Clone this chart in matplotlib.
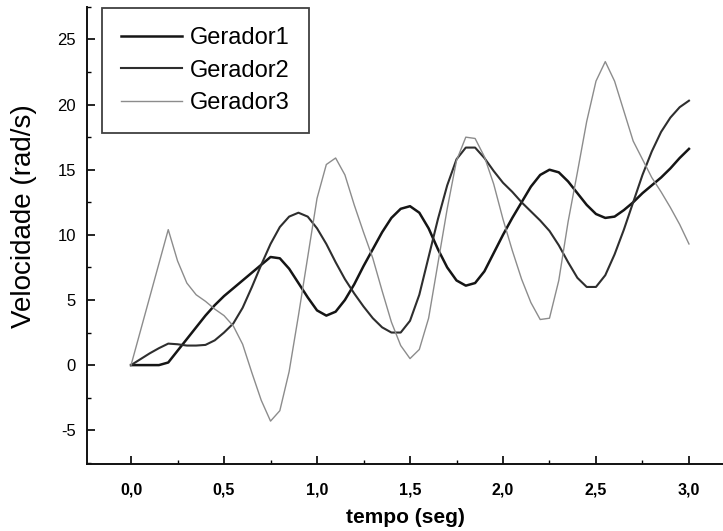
import matplotlib
matplotlib.use("Agg")
import matplotlib.pyplot as plt
from matplotlib.ticker import MultipleLocator

# time axis (s), read every 0.05 s off the scan
tempo = [0.00, 0.05, 0.10, 0.15, 0.20, 0.25, 0.30, 0.35, 0.40, 0.45,
         0.50, 0.55, 0.60, 0.65, 0.70, 0.75, 0.80, 0.85, 0.90, 0.95,
         1.00, 1.05, 1.10, 1.15, 1.20, 1.25, 1.30, 1.35, 1.40, 1.45,
         1.50, 1.55, 1.60, 1.65, 1.70, 1.75, 1.80, 1.85, 1.90, 1.95,
         2.00, 2.05, 2.10, 2.15, 2.20, 2.25, 2.30, 2.35, 2.40, 2.45,
         2.50, 2.55, 2.60, 2.65, 2.70, 2.75, 2.80, 2.85, 2.90, 2.95,
         3.00]

gerador1 = [0.0, 0.0, 0.0, 0.0, 0.2, 1.1, 2.0, 2.9, 3.8, 4.6,
            5.3, 5.9, 6.5, 7.1, 7.7, 8.3, 8.2, 7.4, 6.3, 5.2,
            4.2, 3.8, 4.1, 5.0, 6.2, 7.6, 8.9, 10.2, 11.3, 12.0,
            12.2, 11.7, 10.5, 8.9, 7.5, 6.5, 6.1, 6.3, 7.2, 8.6,
            10.0, 11.3, 12.5, 13.7, 14.6, 15.0, 14.8, 14.1, 13.2, 12.3,
            11.6, 11.3, 11.4, 11.9, 12.5, 13.2, 13.8, 14.4, 15.1, 15.9,
            16.6]

gerador2 = [0.0, 0.45, 0.9, 1.3, 1.65, 1.6, 1.5, 1.5, 1.55, 1.9,
            2.5, 3.2, 4.4, 6.0, 7.7, 9.3, 10.6, 11.4, 11.7, 11.4,
            10.5, 9.3, 7.9, 6.6, 5.5, 4.5, 3.6, 2.9, 2.5, 2.5,
            3.4, 5.4, 8.3, 11.2, 13.8, 15.8, 16.7, 16.7, 15.9, 14.9,
            14.0, 13.3, 12.5, 11.8, 11.1, 10.3, 9.2, 7.9, 6.7, 6.0,
            6.0, 6.9, 8.5, 10.4, 12.5, 14.6, 16.4, 17.9, 19.0, 19.8,
            20.3]

gerador3 = [0.0, 2.6, 5.2, 7.8, 10.4, 8.0, 6.3, 5.4, 4.9, 4.3,
            3.8, 3.0, 1.6, -0.6, -2.7, -4.3, -3.5, -0.5, 3.8, 8.3,
            12.8, 15.4, 15.9, 14.6, 12.3, 10.2, 8.2, 5.7, 3.3, 1.5,
            0.5, 1.2, 3.6, 7.8, 12.0, 15.7, 17.5, 17.4, 16.0, 13.9,
            11.2, 8.8, 6.6, 4.8, 3.5, 3.6, 6.5, 11.0, 14.8, 18.7,
            21.8, 23.3, 21.8, 19.5, 17.2, 15.8, 14.4, 13.3, 12.1, 10.8,
            9.3]

x_ticks = [0.0, 0.5, 1.0, 1.5, 2.0, 2.5, 3.0]
x_labels = ["0,0", "0,5", "1,0", "1,5", "2,0", "2,5", "3,0"]
y_ticks = [-5, 0, 5, 10, 15, 20, 25]

plt.rcParams["font.family"] = ["Liberation Sans", "DejaVu Sans"]

fig = plt.figure(figsize=(7.23, 5.31), dpi=100)
ax = fig.add_axes([0.1203, 0.126, 0.8797, 0.861])

ax.plot(tempo, gerador1, color="#151515", lw=1.8, label="Gerador1")
ax.plot(tempo, gerador2, color="#2e2e2e", lw=1.5, label="Gerador2")
ax.plot(tempo, gerador3, color="#8c8c8c", lw=1.0, label="Gerador3")

ax.set_xlim(-0.237, 3.183)
ax.set_ylim(-7.6, 27.5)

for side in ["top", "right"]:
    ax.spines[side].set_visible(False)
for side in ["left", "bottom"]:
    ax.spines[side].set_linewidth(1.4)
    ax.spines[side].set_color("#111111")

ax.set_xticks(x_ticks)
ax.set_xticklabels(x_labels, fontweight="bold", fontsize=11.5)
ax.set_yticks(y_ticks)
ax.set_yticklabels([str(v) for v in y_ticks], fontsize=12)
ax.xaxis.set_minor_locator(MultipleLocator(0.25))
ax.yaxis.set_minor_locator(MultipleLocator(2.5))
ax.tick_params(which="major", direction="in", length=6, width=1.2)
ax.tick_params(which="minor", direction="in", length=3, width=1.0)
ax.tick_params(axis="x", which="major", pad=13)
ax.tick_params(axis="y", which="major", pad=8)

ax.set_xlabel("tempo (seg)", fontsize=15, fontweight="bold", labelpad=8)
ax.set_ylabel("Velocidade (rad/s)", fontsize=20)
ax.yaxis.set_label_coords(-0.078, 0.543)

leg = fig.legend(loc="upper left", bbox_to_anchor=(102 / 723, 1 - 8 / 531),
                 fontsize=17, frameon=True, fancybox=False, edgecolor="#111111",
                 handlelength=2.6, handletextpad=0.34, labelspacing=0.45,
                 borderpad=0.8, borderaxespad=0)
leg.get_frame().set_linewidth(1.3)

fig.savefig("out.png", dpi=100)
